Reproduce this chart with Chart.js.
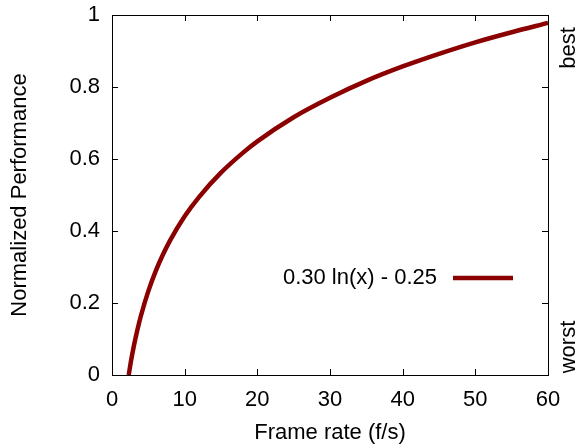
<!DOCTYPE html>
<html>
<head>
<meta charset="utf-8">
<script src="https://cdn.jsdelivr.net/npm/chart.js@4"></script>
<style>
  html, body { margin: 0; padding: 0; background: #fff; }
  #wrap { width: 580px; height: 446px; }
</style>
</head>
<body>
<div id="wrap"><canvas id="perfChart" width="580" height="446"></canvas></div>
<script>
// values
var frameRates = [2.3, 2.6, 3, 3.5, 4, 5, 6, 7, 8, 10, 12, 15, 18, 20, 25, 30, 35, 40, 45, 50, 55, 60];
var performance = [0.0, 0.037, 0.080, 0.126, 0.166, 0.233, 0.288, 0.334, 0.374, 0.441, 0.495, 0.562, 0.617, 0.649, 0.716, 0.770, 0.817, 0.857, 0.892, 0.924, 0.952, 0.978];
var seriesLabel = "0.30 ln(x) - 0.25";
var xTicks = [0, 10, 20, 30, 40, 50, 60];
var yTicks = [0, 0.2, 0.4, 0.6, 0.8, 1];

var points = [];
for (var i = 0; i < frameRates.length; i++) {
  points.push({ x: frameRates[i], y: performance[i] });
}

var font = "Liberation Sans, Arial, sans-serif";
var fontSize = 22;
var lineColor = "#8b0000";

var framePlugin = {
  id: "frame",
  afterDraw: function (chart) {
    var ctx = chart.ctx;
    var a = chart.chartArea;
    var xs = chart.scales.x;
    var ys = chart.scales.y;
    ctx.save();
    ctx.strokeStyle = "#000";
    ctx.lineWidth = 1;
    ctx.strokeRect(a.left + 0.5, a.top + 0.5, a.right - a.left, a.bottom - a.top);
    // inward ticks on all four sides
    ctx.beginPath();
    xTicks.forEach(function (v) {
      var px = Math.round(xs.getPixelForValue(v)) + 0.5;
      ctx.moveTo(px, a.bottom);
      ctx.lineTo(px, a.bottom - 6);
      ctx.moveTo(px, a.top);
      ctx.lineTo(px, a.top + 6);
    });
    yTicks.forEach(function (v) {
      var py = Math.round(ys.getPixelForValue(v)) + 0.5;
      ctx.moveTo(a.left, py);
      ctx.lineTo(a.left + 6, py);
      ctx.moveTo(a.right, py);
      ctx.lineTo(a.right - 6, py);
    });
    ctx.stroke();

    // right side labels
    ctx.fillStyle = "#000";
    ctx.font = fontSize + "px " + font;
    ctx.textAlign = "center";
    ctx.textBaseline = "middle";
    ctx.save();
    ctx.translate(569, 48);
    ctx.rotate(-Math.PI / 2);
    ctx.fillText("best", 0, 0);
    ctx.restore();
    ctx.save();
    ctx.translate(569, 347);
    ctx.rotate(-Math.PI / 2);
    ctx.fillText("worst", 0, 0);
    ctx.restore();

    // key
    ctx.textAlign = "right";
    ctx.fillText(seriesLabel, 437, 278);
    ctx.strokeStyle = lineColor;
    ctx.lineWidth = 4.5;
    ctx.beginPath();
    ctx.moveTo(453, 278);
    ctx.lineTo(513, 278);
    ctx.stroke();
    ctx.restore();
  }
};

var ctx = document.getElementById("perfChart").getContext("2d");
var myChart = new Chart(ctx, {
  type: "line",
  data: {
    datasets: [
      {
        label: seriesLabel,
        data: points,
        borderColor: lineColor,
        borderWidth: 4.5,
        pointRadius: 0,
        fill: false,
        cubicInterpolationMode: "monotone",
      },
    ],
  },
  options: {
    responsive: false,
    animation: false,
    clip: false,
    layout: { padding: { top: 15, right: 32, left: 0, bottom: 0 } },
    plugins: { legend: { display: false }, tooltip: { enabled: false } },
    scales: {
      x: {
        type: "linear",
        min: 0,
        max: 60,
        afterBuildTicks: function (s) { s.ticks = xTicks.map(function (v) { return { value: v }; }); },
        afterFit: function (s) { s.height = 71; s.paddingLeft = 0; s.paddingRight = 0; },
        grid: { display: false, drawTicks: false },
        border: { display: false },
        ticks: { color: "#000", font: { family: font, size: fontSize }, padding: 12, maxRotation: 0 },
        title: { display: true, text: "Frame rate (f/s)", color: "#000", font: { family: font, size: fontSize }, padding: { top: 2, bottom: 0 } },
      },
      y: {
        min: 0,
        max: 1,
        afterBuildTicks: function (s) { s.ticks = yTicks.map(function (v) { return { value: v }; }); },
        afterFit: function (s) { s.width = 112; s.paddingTop = 0; s.paddingBottom = 0; },
        grid: { display: false, drawTicks: false },
        border: { display: false },
        ticks: {
          color: "#000",
          font: { family: font, size: fontSize },
          padding: 12,
          callback: function (v) { return v === 0 || v === 1 ? String(v) : v.toFixed(1); },
        },
        title: { display: true, text: "Normalized Performance", color: "#000", font: { family: font, size: fontSize }, padding: { top: 7, bottom: 0 } },
      },
    },
  },
  plugins: [framePlugin],
});
</script>
</body>
</html>
